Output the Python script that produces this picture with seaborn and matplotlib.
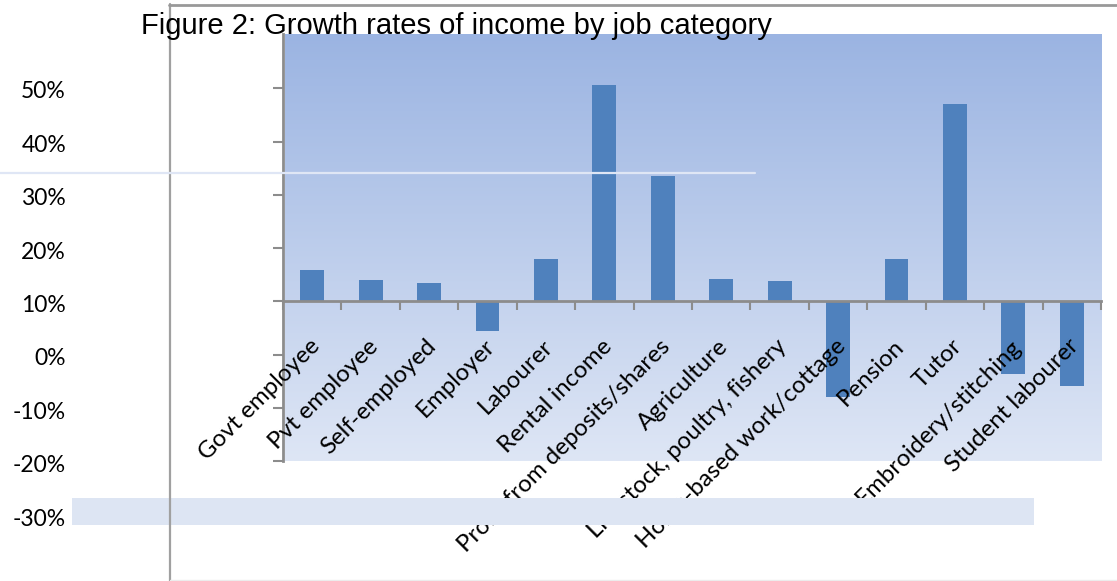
import numpy as np
import matplotlib
matplotlib.use("Agg")
import matplotlib.pyplot as plt
import matplotlib.transforms as mtransforms
import seaborn as sns
from matplotlib.lines import Line2D
from matplotlib.patches import Rectangle
from matplotlib.ticker import FuncFormatter, FixedLocator

categories = ["Govt employee", "Pvt employee", "Self-employed", "Employer", "Labourer",
              "Rental income", "Profit from deposits/shares", "Agriculture",
              "Livestock, poultry, fishery", "Home-based work/cottage", "Pension", "Tutor",
              "Embroidery/stitching", "Student labourer"]
growth = [0.058, 0.040, 0.034, -0.055, 0.079, 0.406, 0.235, 0.041, 0.038, -0.179,
          0.079, 0.371, -0.137, -0.160]
outer_ticks = [0.5, 0.4, 0.3, 0.2, 0.1, 0.0, -0.1, -0.2, -0.3]
inner_ticks = [0.4, 0.3, 0.2, 0.1, 0.0, -0.1, -0.2, -0.3]
title = "Figure 2: Growth rates of income by job category"

sns.set_style("white")
plt.rcParams['font.family'] = ['Lato', 'DejaVu Sans']
plt.rcParams['axes.unicode_minus'] = False
plt.rcParams['text.color'] = 'black'

W, H = 1117, 581
fig = plt.figure(figsize=(W / 100, H / 100), dpi=100)

def fx(px):
    return px / W

def fy(py):
    return 1 - py / H

grey = "#8c8c8c"
left, right, top, bottom = 283, 1101, 34, 461
pos = [fx(left), fy(bottom), fx(right) - fx(left), fy(top) - fy(bottom)]

# gradient background
bg = fig.add_axes([fx(left + 1.5), pos[1], fx(right) - fx(left + 1.5), pos[3]], zorder=-1)
c_top = np.array([155, 180, 226]) / 255
c_bot = np.array([222, 230, 245]) / 255
t = np.linspace(0, 1, 256)[:, None]
grad = c_top[None, :] * (1 - t) + c_bot[None, :] * t
bg.imshow(grad[:, None, :], aspect="auto", extent=[0, 1, 0, 1])
bg.set_axis_off()

ax = fig.add_axes(pos)
ax.patch.set_alpha(0)
sns.barplot(x=categories, y=growth, color="#4f81bd", width=0.41, saturation=1,
            linewidth=0, edgecolor="none", ax=ax, zorder=1)
ax.set_xlim(-0.5, len(categories) - 0.5)
ax.set_ylim(-0.30, 0.502)
ax.set_xlabel("")
ax.set_ylabel("")
ax.set_axisbelow(False)
for s in ["top", "right"]:
    ax.spines[s].set_visible(False)
ax.spines["left"].set_color(grey)
ax.spines["left"].set_linewidth(2)
ax.spines["bottom"].set_position(("data", 0))
ax.spines["bottom"].set_color(grey)
ax.spines["bottom"].set_linewidth(2)

ax.yaxis.set_major_locator(FixedLocator(inner_ticks))
ax.tick_params(axis="y", which="major", direction="out", length=7.2, width=1.5,
               color=grey, labelleft=False, left=True)

n = len(categories)
ax.xaxis.set_major_locator(FixedLocator(np.arange(-0.5, n, 1.0)))
ax.xaxis.set_minor_locator(FixedLocator(np.arange(n)))
ax.set_xticklabels([""] * (n + 1))
ax.set_xticklabels(categories, minor=True)
ax.tick_params(axis="x", which="major", direction="out", length=6.5, width=1.5,
               color=grey, bottom=True)
ax.tick_params(axis="x", which="minor", length=0, pad=30, labelsize=17.3,
               labelcolor="black")
shift = mtransforms.ScaledTranslation(4 / 100, 0, fig.dpi_scale_trans)
for tick in ax.xaxis.get_minor_ticks():
    lab = tick.label1
    lab.set_rotation(45)
    lab.set_ha("right")
    lab.set_va("center")
    lab.set_rotation_mode("anchor")
    lab.set_transform(lab.get_transform() + shift)

# outer (left) percentage labels
lab_ax = fig.add_axes([fx(66), fy(517), 0.001, fy(90) - fy(517)])
lab_ax.set_ylim(-0.30, 0.50)
lab_ax.yaxis.set_major_locator(FixedLocator(outer_ticks))
lab_ax.yaxis.set_major_formatter(FuncFormatter(lambda v, p: f"{v * 100:.0f}%"))
lab_ax.tick_params(axis="y", length=0, pad=0, labelsize=16.5, labelcolor="black")
lab_ax.set_xticks([])
lab_ax.patch.set_alpha(0)
for s in lab_ax.spines.values():
    s.set_visible(False)

# title
fig.text(fx(141), fy(34), title, fontsize=21, family="Liberation Sans",
         color="black", va="baseline", ha="left", zorder=10)

# frame lines and overlay strips
fig.add_artist(Line2D([fx(169.5), fx(169.5)], [fy(4), fy(581)], color="#a0a0a0", lw=1.6))
fig.add_artist(Line2D([fx(169), fx(1117)], [fy(5), fy(5)], color="#999999", lw=2))
fig.add_artist(Line2D([fx(170), fx(1117)], [fy(580), fy(580)], color="#ececec", lw=1))
fig.add_artist(Line2D([fx(0), fx(755)], [fy(173), fy(173)], color="#dfe6f5", lw=1.6))
fig.add_artist(Rectangle((fx(72), fy(525)), fx(1034) - fx(72), fy(498) - fy(525),
                         transform=fig.transFigure, color="#dde5f3", lw=0))

fig.savefig("out.png", dpi=100)
